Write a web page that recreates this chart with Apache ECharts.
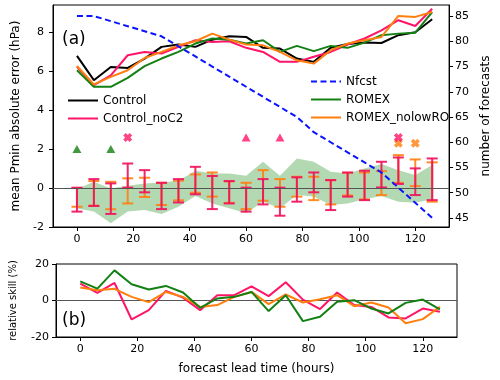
<!DOCTYPE html>
<html><head><meta charset="utf-8">
<script src="https://cdn.jsdelivr.net/npm/echarts@6/dist/echarts.min.js"></script>
<style>html,body{margin:0;padding:0;background:#fff}#c{width:500px;height:380px}</style>
</head><body><div id="c"></div>
<script>
const leadTimes = [0,6,12,18,24,30,36,42,48,54,60,66,72,78,84,90,96,102,108,114,120,126];
const control = [6.79,5.54,6.22,6.17,6.65,7.25,7.37,7.25,7.62,7.79,7.76,7.2,7.16,6.65,6.48,7.2,7.4,7.47,7.45,7.85,8.0,8.67];
const controlNoC2 = [6.22,5.28,5.79,6.82,6.99,6.91,7.25,7.59,7.5,7.54,7.2,6.99,6.48,6.48,6.74,6.99,7.37,7.68,8.1,8.62,8.32,9.21];
const romex = [6.05,5.2,5.2,5.66,6.26,6.65,6.99,7.42,7.68,7.62,7.42,7.59,6.99,7.3,7.03,7.3,7.2,7.47,7.85,7.93,7.98,9.04];
const romexNolowRO = [6.27,5.32,5.71,6.05,6.68,6.99,7.33,7.54,7.93,7.62,7.37,7.33,6.99,6.56,6.39,7.08,7.42,7.59,7.76,8.84,8.79,9.04];
const nfcst = [85,85,84,83,82,81,79,77,75,73,71,69,67,65,62,60,58,56,54,51,48,45];

const romexLo = [-1.05,-1.21,-1.81,-1.21,-1.13,-1.33,-0.96,-0.41,-0.79,-1.04,-1.30,-0.70,-1.04,-0.36,-0.44,-0.87,-0.79,-0.58,-0.41,-0.70,-0.75,-0.58];
const romexHi = [-0.05,0.32,-0.02,0.12,0.24,0.29,0.38,0.89,0.75,0.75,0.63,1.35,0.63,1.52,1.35,0.84,0.75,1.01,1.23,0.92,0.67,1.18];
const noC2Lo = [-1.21,-0.92,-1.33,0.02,-0.22,-1.08,-0.74,-0.32,-1.08,-0.79,-1.21,-0.84,-1.42,-0.70,-0.22,-1.13,-0.44,-0.62,0.03,0.21,-0.36,-0.62];
const noC2Hi = [0.02,0.46,0.24,1.26,0.92,0.27,0.46,1.09,0.62,0.36,0.02,0.46,0.02,0.55,0.80,0.41,0.80,0.89,1.35,1.57,1.01,1.52];
const nolowLo = [-0.96,-0.90,-1.09,-0.79,-0.46,-0.87,-0.63,-0.24,-0.44,-0.76,-1.08,-0.65,-0.96,-0.44,-0.62,-0.84,-0.38,-0.58,-0.36,0.27,0.10,-0.70];
const nolowHi = [0.0,0.36,0.32,0.50,0.53,0.27,0.38,0.70,0.80,0.34,0.27,0.92,0.46,0.58,0.58,0.40,0.78,0.80,0.87,1.69,1.47,1.32];

const romexSigTri = [[0,2.0],[12,2.0]];
const noC2SigTri = [[60,2.6],[72,2.6]];
const noC2SigX = [[18,2.6],[114,2.6]];
const nolowSigX = [[114,2.3],[120,2.3]];

const skillNoC2 = [9.3,4.2,9.6,-10.4,-5.3,5.3,1.6,-5.3,2.9,2.9,7.8,2.4,10,0.5,-4.7,4.4,-2.5,-3.5,-9.3,-9.8,-4.4,-6.2];
const skillRomex = [10.5,6.5,16.5,8.9,6,8,4.4,-4,1.1,2,4.7,-5.8,2.9,-11.3,-8.9,-0.7,0.2,-4.4,-7.1,-1.3,0.5,-4.9];
const skillNolow = [7.1,5.6,6.4,2,-0.9,4.7,2,-3.5,-2.5,2,4.7,-2,3.3,-1.1,0.7,2.9,-3.1,-1.1,-3.8,-12.5,-10.2,-3.5];

const xTicks = [0,20,40,60,80,100,120];
const yTicksA = [-2,0,2,4,6,8];
const yTicksR = [45,50,55,60,65,70,75,80,85];
const yTicksB = [-20,0,20];

const C_BLACK = '#000000', C_PINK = '#ff1468', C_GREEN = '#138013', C_ORANGE = '#ff7f0e', C_BLUE = '#0a14ff';
const FONT = 'DejaVu Sans';
const X_PATH = 'path://M28,0 L50,22 L72,0 L100,28 L78,50 L100,72 L72,100 L50,78 L28,100 L0,72 L22,50 L0,28 Z';

const zip = (xs, ys) => xs.map((x, i) => [x, ys[i]]);
const zip3 = (xs, a, b) => xs.map((x, i) => [x, a[i], b[i]]);

function errBar(color) {
  return function (params, api) {
    const x = api.value(0), lo = api.value(1), hi = api.value(2);
    const pLo = api.coord([x, lo]), pHi = api.coord([x, hi]);
    const cap = 5.5;
    const style = { stroke: color, lineWidth: 2 };
    return { type: 'group', children: [
      { type: 'line', shape: { x1: pLo[0], y1: pLo[1], x2: pHi[0], y2: pHi[1] }, style: style },
      { type: 'line', shape: { x1: pLo[0] - cap, y1: pLo[1], x2: pLo[0] + cap, y2: pLo[1] }, style: style },
      { type: 'line', shape: { x1: pHi[0] - cap, y1: pHi[1], x2: pHi[0] + cap, y2: pHi[1] }, style: style }
    ]};
  };
}

const axisCommon = {
  axisLine: { show: true, onZero: false, lineStyle: { color: '#000', width: 1 } },
  axisTick: { show: true, inside: false, length: 4, lineStyle: { color: '#000', width: 1 } },
  splitLine: { show: false },
  axisLabel: { color: '#000', fontFamily: FONT, fontSize: 11 }
};
function xAx(grid) {
  return Object.assign({}, axisCommon, {
    type: 'value', gridIndex: grid, min: -8.5, max: 132,
    axisTick: Object.assign({}, axisCommon.axisTick, { customValues: xTicks }),
    axisLabel: Object.assign({}, axisCommon.axisLabel, { customValues: xTicks, margin: 7 })
  });
}

const chart = echarts.init(document.getElementById('c'), null, { renderer: 'canvas' });
const lineS = (name, data, color, xi, yi, extra) => Object.assign({
  name: name, type: 'line', data: data, xAxisIndex: xi, yAxisIndex: yi,
  symbol: 'none', showSymbol: false, lineStyle: { color: color, width: 2 }, itemStyle: { color: color },
  animation: false, z: 5
}, extra || {});

const legendCommon = { orient: 'vertical', itemWidth: 30, itemHeight: 14, itemGap: 6,
  itemStyle: { opacity: 0, borderWidth: 0 }, textStyle: { color: '#000', fontFamily: FONT, fontSize: 12 } };

chart.setOption({
  animation: false,
  textStyle: { fontFamily: FONT },
  grid: [
    { left: 53, right: 43, top: 5, height: 222, show: true, borderColor: '#000', borderWidth: 1, backgroundColor: 'transparent' },
    { left: 53, right: 43, top: 264, height: 73, show: true, borderColor: '#000', borderWidth: 1, backgroundColor: 'transparent' }
  ],
  xAxis: [
    xAx(0),
    Object.assign(xAx(1), { name: 'forecast lead time (hours)', nameLocation: 'middle', nameGap: 26,
      nameTextStyle: { color: '#000', fontFamily: FONT, fontSize: 12 } })
  ],
  yAxis: [
    Object.assign({}, axisCommon, {
      type: 'value', gridIndex: 0, min: -2, max: 9.4,
      name: 'mean Pmin absolute error (hPa)', nameLocation: 'middle', nameGap: 31, nameRotate: 90,
      nameTextStyle: { color: '#000', fontFamily: FONT, fontSize: 12 },
      axisTick: Object.assign({}, axisCommon.axisTick, { customValues: yTicksA }),
      axisLabel: Object.assign({}, axisCommon.axisLabel, { customValues: yTicksA, margin: 9 })
    }),
    Object.assign({}, axisCommon, {
      type: 'value', gridIndex: 0, position: 'right', min: 43.2, max: 87.2,
      name: 'number of forecasts', nameLocation: 'middle', nameGap: 29, nameRotate: 90,
      nameTextStyle: { color: '#000', fontFamily: FONT, fontSize: 12 },
      axisTick: Object.assign({}, axisCommon.axisTick, { customValues: yTicksR }),
      axisLabel: Object.assign({}, axisCommon.axisLabel, { customValues: yTicksR, margin: 6 })
    }),
    Object.assign({}, axisCommon, {
      type: 'value', gridIndex: 1, min: -20, max: 20,
      name: 'relative skill (%)', nameLocation: 'middle', nameGap: 38, nameRotate: 90,
      nameTextStyle: { color: '#000', fontFamily: FONT, fontSize: 10 },
      axisTick: Object.assign({}, axisCommon.axisTick, { customValues: yTicksB }),
      axisLabel: Object.assign({}, axisCommon.axisLabel, { customValues: yTicksB, margin: 7 })
    })
  ],
  legend: [
    Object.assign({ left: 62, top: 89.5, data: ['Control', 'Control_noC2'] }, legendCommon),
    Object.assign({ left: 305, top: 70.5, data: ['Nfcst', 'ROMEX', 'ROMEX_nolowRO'] }, legendCommon)
  ],
  graphic: [
    { type: 'text', left: 62, top: 31, style: { text: '(a)', font: '17px "DejaVu Sans"', fill: '#000' }, z: 10 },
    { type: 'text', left: 62, top: 312, style: { text: '(b)', font: '17px "DejaVu Sans"', fill: '#000' }, z: 10 }
  ],
  series: [
    { type: 'custom', name: 'band', xAxisIndex: 0, yAxisIndex: 0, data: zip3(leadTimes, romexLo, romexHi),
      encode: { x: 0, y: [1, 2] }, z: 1, silent: true,
      renderItem: function (params, api) {
        if (params.dataIndex !== 0) return null;
        const pts = [];
        for (let i = 0; i < leadTimes.length; i++) pts.push(api.coord([leadTimes[i], romexHi[i]]));
        for (let i = leadTimes.length - 1; i >= 0; i--) pts.push(api.coord([leadTimes[i], romexLo[i]]));
        return { type: 'polygon', shape: { points: pts }, style: { fill: 'rgba(0,128,0,0.3)' } };
      },
      markLine: { silent: true, symbol: 'none', label: { show: false },
        lineStyle: { color: '#555', width: 1, type: 'solid' }, data: [{ yAxis: 0 }] }
    },
    { type: 'custom', name: 'errNolow', xAxisIndex: 0, yAxisIndex: 0, data: zip3(leadTimes, nolowLo, nolowHi),
      encode: { x: 0, y: [1, 2] }, z: 2, silent: true, renderItem: errBar('rgba(255,127,14,0.9)') },
    { type: 'custom', name: 'errNoC2', xAxisIndex: 0, yAxisIndex: 0, data: zip3(leadTimes, noC2Lo, noC2Hi),
      encode: { x: 0, y: [1, 2] }, z: 3, silent: true, renderItem: errBar('rgba(240,20,94,0.92)') },
    { type: 'scatter', name: 'sigRomex', xAxisIndex: 0, yAxisIndex: 0, data: romexSigTri,
      symbol: 'triangle', symbolSize: [9, 8], itemStyle: { color: C_GREEN }, z: 4, silent: true },
    { type: 'scatter', name: 'sigNoC2T', xAxisIndex: 0, yAxisIndex: 0, data: noC2SigTri,
      symbol: 'triangle', symbolSize: [9, 8], itemStyle: { color: C_PINK }, z: 4, silent: true },
    { type: 'scatter', name: 'sigNolowX', xAxisIndex: 0, yAxisIndex: 0, data: nolowSigX,
      symbol: X_PATH, symbolSize: 9, itemStyle: { color: C_ORANGE }, z: 4, silent: true },
    { type: 'scatter', name: 'sigNoC2X', xAxisIndex: 0, yAxisIndex: 0, data: noC2SigX,
      symbol: X_PATH, symbolSize: 9, itemStyle: { color: C_PINK }, z: 4, silent: true },
    lineS('Control', zip(leadTimes, control), C_BLACK, 0, 0),
    lineS('Control_noC2', zip(leadTimes, controlNoC2), C_PINK, 0, 0),
    lineS('ROMEX', zip(leadTimes, romex), C_GREEN, 0, 0),
    lineS('ROMEX_nolowRO', zip(leadTimes, romexNolowRO), C_ORANGE, 0, 0),
    lineS('Nfcst', zip(leadTimes, nfcst), C_BLUE, 0, 1, { lineStyle: { color: C_BLUE, width: 2, type: [6, 3.5] }, z: 6 }),
    lineS('skNoC2', zip(leadTimes, skillNoC2), C_PINK, 1, 2, {
      markLine: { silent: true, symbol: 'none', label: { show: false },
        lineStyle: { color: '#555', width: 1, type: 'solid' }, data: [{ yAxis: 0 }] } }),
    lineS('skNolow', zip(leadTimes, skillNolow), C_ORANGE, 1, 2),
    lineS('skRomex', zip(leadTimes, skillRomex), C_GREEN, 1, 2)
  ]
});
</script>
</body></html>
